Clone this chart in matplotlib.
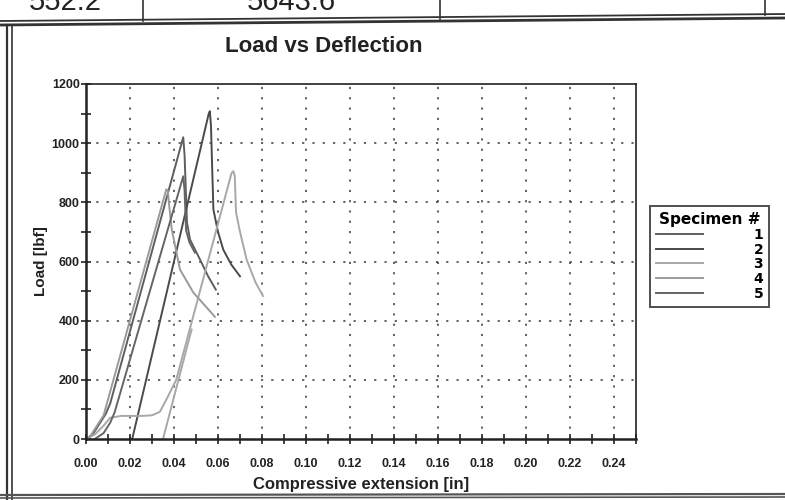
import matplotlib
matplotlib.use("Agg")
import matplotlib.pyplot as plt
import matplotlib.ticker as ticker
from matplotlib.lines import Line2D

# Load vs deflection traces (in, lbf)
spec1_x = [0.000, 0.003, 0.006, 0.009, 0.011, 0.0442, 0.0448, 0.0459, 0.0473, 0.0518, 0.0555, 0.0590]
spec1_y = [0, 15, 50, 85, 120, 1020, 960, 732, 674, 607, 550, 505]

spec2_x = [0.021, 0.0558, 0.0563, 0.0568, 0.0579, 0.0600, 0.0624, 0.0660, 0.0700]
spec2_y = [0, 1100, 1108, 1060, 776, 700, 640, 590, 550]

spec3_x = [0.000, 0.004, 0.008, 0.011, 0.016, 0.025, 0.030, 0.0336, 0.037, 0.041, 0.0662, 0.0670, 0.0676, 0.0682, 0.0700, 0.0730, 0.0770, 0.0805]
spec3_y = [0, 15, 45, 72, 78, 78, 80, 92, 140, 200, 900, 905, 890, 766, 700, 607, 530, 483]
# second trace of the same specimen (straight segment starting at 0.035 in)
spec3b_x = [0.0350, 0.0480]
spec3b_y = [0, 370]

spec4_x = [0.000, 0.002, 0.005, 0.008, 0.0365, 0.0372, 0.0378, 0.0390, 0.0427, 0.0488, 0.0586]
spec4_y = [0, 10, 45, 80, 844, 840, 790, 708, 573, 495, 413]

spec5_x = [0.004, 0.008, 0.011, 0.013, 0.0442, 0.0448, 0.0455, 0.0470, 0.0495]
spec5_y = [0, 20, 55, 90, 888, 840, 705, 665, 630]

labels = ["1", "2", "3", "4", "5"]
colors = ["#5e5e5e", "#4a4a4a", "#a8a8a8", "#9a9a9a", "#656565"]

x_ticks = [0.00, 0.02, 0.04, 0.06, 0.08, 0.10, 0.12, 0.14, 0.16, 0.18, 0.20, 0.22, 0.24]
y_ticks = [0, 200, 400, 600, 800, 1000, 1200]

W, H = 785, 500
NARROW = ["Liberation Sans Narrow", "Liberation Sans", "DejaVu Sans"]


def fx(px):
    return px / W


def fy(py):
    return 1 - py / H


fig = plt.figure(figsize=(W / 100, H / 100), dpi=100)
fig.patch.set_facecolor("white")

# scanned page frame pieces
def page_line(xs, ys, lw, color="#333333"):
    fig.add_artist(Line2D([fx(v) for v in xs], [fy(v) for v in ys],
                          lw=lw, color=color, transform=fig.transFigure))

page_line([0, 785], [21, 14], 1.3)
page_line([0, 785], [25, 18], 2.0)
page_line([143, 143], [0, 21], 1.2)
page_line([440, 440], [0, 19], 1.2)
page_line([765, 765], [0, 15], 1.2)
page_line([7, 7], [25, 500], 1.6)
page_line([12, 12], [25, 500], 1.2)
page_line([0, 785], [495, 494], 1.6, "#555555")
page_line([0, 785], [498, 497], 1.2, "#555555")

# table row above the chart, cut off by the scan edge
fig.text(fx(65), fy(10), "552.2", ha="center", va="baseline",
         fontsize=21, family=NARROW, color="#222222")
fig.text(fx(291), fy(10), "5643.6", ha="center", va="baseline",
         fontsize=21, family=NARROW, color="#222222")

ax = fig.add_axes([fx(86), fy(439), fx(636) - fx(86), fy(84) - fy(439)])

series = [(spec1_x, spec1_y), (spec2_x, spec2_y), (spec3_x, spec3_y),
          (spec4_x, spec4_y), (spec5_x, spec5_y)]
for (xs, ys), lab, c in zip(series, labels, colors):
    ax.plot(xs, ys, color=c, lw=1.4, label=lab)
ax.plot(spec3b_x, spec3b_y, color=colors[2], lw=1.4)

ax.set_xlim(0, 0.25)
ax.set_ylim(0, 1200)
ax.set_xticks(x_ticks)
ax.set_xticklabels([f"{v:.2f}" for v in x_ticks])
ax.set_yticks(y_ticks)
ax.set_yticklabels([str(v) for v in y_ticks])
ax.xaxis.set_minor_locator(ticker.MultipleLocator(0.01))
ax.yaxis.set_minor_locator(ticker.MultipleLocator(100))

ax.tick_params(which="both", direction="inout", length=7, width=1.2, color="#222222")
ax.tick_params(axis="x", pad=10, labelsize=9)
ax.tick_params(axis="y", pad=1, labelsize=9)
for lab in ax.get_xticklabels() + ax.get_yticklabels():
    lab.set_family(NARROW)
    lab.set_fontweight("bold")
    lab.set_color("#222222")

for v in x_ticks[1:]:
    ax.axvline(v, color="#555555", lw=1.3, ls=(0, (1.2, 4.5)), zorder=0)
for v in y_ticks[1:-1]:
    ax.axhline(v, color="#555555", lw=1.3, ls=(0, (1.2, 4.5)), zorder=0)

for side in ["left", "bottom"]:
    ax.spines[side].set_linewidth(1.8)
for side in ["top", "right"]:
    ax.spines[side].set_linewidth(1.2)
for sp in ax.spines.values():
    sp.set_color("#222222")

ax.set_xlabel("Compressive extension [in]", family=NARROW, fontweight="bold",
              fontsize=12, color="#222222", labelpad=5)
ax.set_ylabel("Load [lbf]", family=NARROW, fontweight="bold",
              fontsize=11, color="#222222", labelpad=3)
fig.text(fx(324), fy(47), "Load vs Deflection", ha="center", va="center",
         fontsize=16, family=NARROW, fontweight="bold", color="#222222")

leg = fig.legend(loc="upper left", bbox_to_anchor=(fx(650), fy(206)),
                 title="Specimen #", fontsize=10, frameon=True, fancybox=False,
                 handlelength=3.4, handletextpad=3.6, labelspacing=0.05,
                 borderpad=0.45, borderaxespad=0)
leg.get_title().set_fontweight("bold")
leg.get_title().set_fontsize(11)
leg.get_frame().set_edgecolor("#222222")
leg.get_frame().set_linewidth(1.4)
for t in leg.get_texts():
    t.set_fontweight("bold")

fig.savefig("out.png", dpi=100)
